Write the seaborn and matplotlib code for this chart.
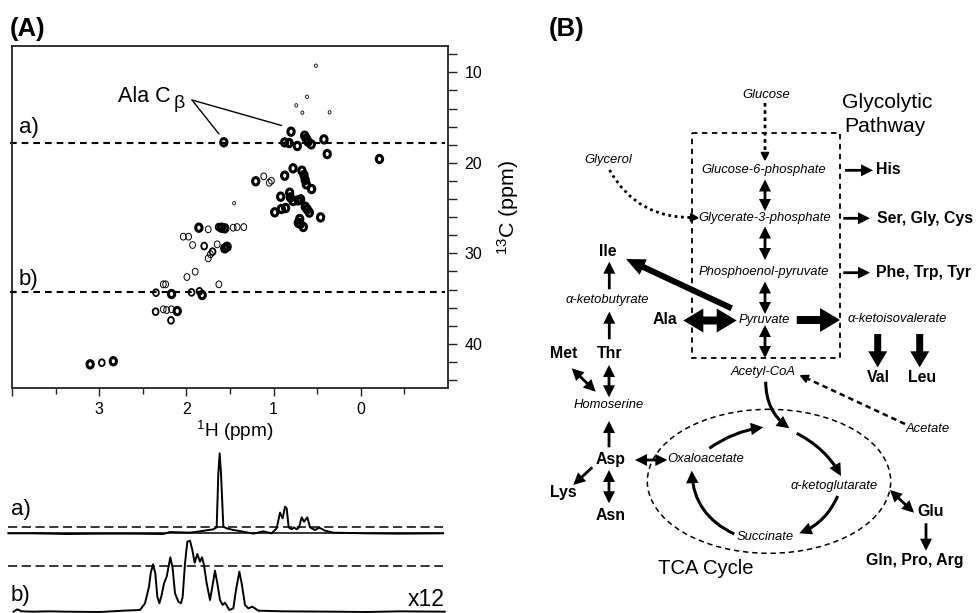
# =========================
# 1. Import Libraries
# =========================
import numpy as np
import pandas as pd
import seaborn as sns
import matplotlib
matplotlib.use("Agg")
import matplotlib.pyplot as plt
from matplotlib.patches import Ellipse, FancyArrowPatch, Rectangle
from matplotlib.path import Path
from matplotlib.transforms import Affine2D

# =========================
# 2. Data
# =========================
# 1H / 13C shifts (ppm) of the HSQC peaks, by contour weight
strong_h = [1.571, 0.80, 0.873, 0.823, 0.728, 0.644, 0.625, 0.606, 0.568, 0.423, 0.385, -0.214,
            0.777, 0.873, 0.675, 0.652, 0.637, 0.625, 0.564, 0.919, 0.816, 0.808, 0.777, 0.72, 0.69,
            0.637, 0.614, 0.59, 0.862, 0.911, 0.987, 0.461, 0.701, 0.717, 0.694, 0.659,
            1.857, 1.598, 1.56, 1.533, 1.56, 2.17, 1.819, 2.105, 3.104, 2.838, 1.205]
strong_c = [17.73, 16.56, 17.74, 17.81, 18.14, 17.0, 17.33, 17.66, 17.96, 17.41, 19.03, 19.58,
            20.61, 21.42, 20.87, 21.35, 21.9, 22.38, 22.9, 23.74, 23.3, 23.82, 24.22, 24.15, 24.04,
            24.85, 25.14, 25.5, 25.0, 25.1, 25.47, 26.03, 26.21, 26.62, 26.76, 27.09,
            27.17, 27.17, 27.24, 29.27, 29.45, 34.5, 34.61, 36.38, 42.27, 41.93, 22.04]
medium_h = [1.796, 1.70, 2.349, 1.941, 2.353, 2.177, 2.97, 1.85, 1.63]
medium_c = [29.2, 29.82, 34.35, 34.32, 36.45, 37.41, 42.09, 34.2, 27.1]
weak_h = [1.113, 1.025, 1.05, 1.464, 1.418, 1.342, 2.036, 1.975, 1.929, 1.647, 1.75, 1.724,
          1.899, 1.994, 1.628, 2.265, 2.238, 2.265, 2.227, 2.17, 1.75]
weak_c = [21.5, 21.98, 22.2, 27.17, 27.1, 27.1, 28.16, 28.16, 29.08, 29.01, 30.56, 30.1,
          32.03, 32.62, 33.43, 33.43, 33.43, 36.19, 36.27, 36.19, 27.35]
tiny_h = [0.515, 0.617, 0.74, 0.67, 0.358, 1.453]
tiny_c = [9.27, 12.7, 13.65, 14.46, 14.42, 24.47]

h_ticks = [4, 3, 2, 1, 0]
h_labels = ["", "3", "2", "1", "0"]
h_minor = [3.5, 2.5, 1.5, 0.5, -0.5]
c_ticks = [8, 10, 12, 14, 16, 18, 20, 22, 24, 26, 28, 30, 32, 34, 36, 38, 40, 42, 44]
c_labels = ["", "10", "", "", "", "", "20", "", "", "", "", "30", "", "", "", "", "40", "", ""]
cut_a = 17.76
cut_b = 34.24

# 1D slices: spectrum channel and intensity
trace_a_x = [25, 100, 200, 300, 400, 490, 510, 570, 600, 640, 650, 655, 659, 663, 670, 680, 700, 730, 760,
             790, 815, 830, 840, 848, 855, 860, 866, 875, 882, 890, 897, 905, 912, 922, 930, 945, 958,
             975, 1000, 1100, 1200, 1330]
trace_a_y = [-2, -2, -4, -3, -3, -4, 2, 0, 4, 10, 16, 178, 238, 178, 18, 13, 8, 3, -3,
             4, -2, 13, 60, 43, 78, 73, 16, 10, 16, 10, 16, 46, 33, 46, 16, 8, 15,
             6, 0, -2, -3, -2]
trace_b_x = [40, 52, 65, 100, 150, 200, 300, 370, 420, 435, 447, 452, 459, 466, 472, 478, 485, 492, 500,
             511, 518, 525, 535, 543, 548, 555, 562, 570, 577, 584, 592, 600, 606, 612, 620, 630, 637,
             645, 652, 660, 668, 675, 688, 700, 708, 718, 725, 735, 745, 757, 775, 850, 1000, 1100,
             1200, 1335]
trace_b_y = [0, 7, 1, 0, 1, 0, -1, 3, 5, 25, 75, 115, 142, 115, 45, 25, 50, 85, 105,
             163, 130, 55, 30, 25, 45, 145, 210, 213, 185, 147, 173, 150, 163, 140, 85, 35, 75,
             123, 85, 35, 20, 27, 5, 10, 65, 120, 85, 20, 10, 15, 3, 1, 0, -1,
             1, 0]
offset_a = 237
dash_a = 253
dash_b = 136

# =========================
# 3. Theme and figure
# =========================
sns.set_theme(style="white")
plt.rcParams["font.family"] = ["Liberation Sans", "DejaVu Sans"]
plt.rcParams["mathtext.default"] = "regular"
plt.rcParams["text.color"] = "black"

W, H = 978, 613
fig = plt.figure(figsize=(W / 100, H / 100), dpi=100)


def px_axes(x0, y0, x1, y1):
    return fig.add_axes([x0 / W, 1 - y1 / H, (x1 - x0) / W, (y1 - y0) / H])


# =========================
# 4. 2D spectrum
# =========================
ax = px_axes(12, 46, 448, 387.5)
peak_marker = Path.unit_circle().transformed(Affine2D().scale(0.85, 1.0))
for hs, cs, size, lw in [(weak_h, weak_c, 24, 0.7), (tiny_h, tiny_c, 6, 0.6),
                         (medium_h, medium_c, 24, 1.3), (strong_h, strong_c, 28, 2.2)]:
    peaks = pd.DataFrame({"h": hs, "c": cs})
    sns.scatterplot(data=peaks, x="h", y="c", s=size, marker=peak_marker, fc="none", ec="black",
                    linewidth=lw, legend=False, ax=ax, zorder=3)

ax.set_xlim(4.0, -1.0)
ax.set_ylim(44.83, 7.09)
ax.plot([4.02, -0.97], [cut_a, cut_a], color="black", lw=1.5, ls=(0, (3.2, 2.4)), clip_on=False)
ax.plot([4.02, -0.97], [cut_b, cut_b], color="black", lw=1.5, ls=(0, (3.2, 2.4)), clip_on=False)

ax.set_xticks(h_ticks, labels=h_labels)
ax.set_xticks(h_minor, minor=True)
ax.set_yticks(c_ticks, labels=c_labels)
ax.yaxis.tick_right()
ax.tick_params(axis="x", which="major", length=5.8, width=1, color="#222222", labelsize=11.5,
               labelcolor="black", pad=4.3, bottom=True)
ax.tick_params(axis="x", which="minor", length=4, width=1, color="#222222", bottom=True)
ax.tick_params(axis="y", which="major", length=6.5, width=1, color="#222222", labelsize=11.5,
               labelcolor="black", pad=5.5, right=True, left=False)
ax.set_xlabel("")
ax.set_ylabel("")
for s in ax.spines.values():
    s.set_color("#222222")
    s.set_linewidth(1.3)

# =========================
# 5. 1D slices
# =========================
ax1 = px_axes(0, 440, 460, 613)
slice_a = pd.DataFrame({"x": trace_a_x, "y": np.array(trace_a_y) + offset_a})
slice_b = pd.DataFrame({"x": trace_b_x, "y": trace_b_y})
sns.lineplot(data=slice_a, x="x", y="y", color="black", lw=1.4, estimator=None, sort=False, ax=ax1)
sns.lineplot(data=slice_b, x="x", y="y", color="black", lw=1.4, estimator=None, sort=False, ax=ax1)
ax1.plot([25, 1330], [dash_a, dash_a], color="black", lw=1.1, ls=(0, (6, 3)))
ax1.plot([25, 1330], [dash_b, dash_b], color="black", lw=1.1, ls=(0, (6, 3)))
ax1.plot([25, 1330], [offset_a, offset_a], color="black", lw=1.1)
ax1.set_xlim(0, 1380)
ax1.set_ylim(-4, 515)
ax1.axis("off")

# =========================
# 6. Overlay (text, pathway)
# =========================
ov = px_axes(0, 0, W, H)
ov.set_xlim(0, W)
ov.set_ylim(H, 0)
ov.axis("off")
ov.patch.set_alpha(0)


def label(x, y, s, size=9.6, ha="center", **kw):
    ov.text(x, y, s, fontsize=size, ha=ha, va="center", color="black", **kw)


def it(x, y, s):
    label(x, y, s, size=9.4, style="italic")


def bold(x, y, s, ha="center"):
    label(x, y, s, size=11.4, ha=ha, weight="bold")


def arrow(p0, p1, style="-|>", lw=2.0, head=9, rad=0, ls="-"):
    st = style if style == "-" else style + ",head_length=0.6,head_width=0.3"
    ov.add_patch(FancyArrowPatch(p0, p1, arrowstyle=st,
                                 mutation_scale=head, lw=lw, color="black", shrinkA=0, shrinkB=0,
                                 connectionstyle=f"arc3,rad={rad}", linestyle=ls, capstyle="butt",
                                 joinstyle="miter"))


def fat(p0, p1, tail, hw, hl):
    st = f"simple,head_length={hl * 0.72},head_width={hw * 0.72},tail_width={tail * 0.72}"
    ov.add_patch(FancyArrowPatch(p0, p1, arrowstyle=st, mutation_scale=1, lw=0, color="black",
                                 shrinkA=0, shrinkB=0))


# panel letters and labels of A
label(10, 29, "(A)", size=18.5, ha="left", weight="bold")
label(549, 29, "(B)", size=18.5, ha="left", weight="bold")
label(19, 127, "a)", size=16, ha="left")
label(19, 280, "b)", size=16, ha="left")
label(118, 96, "Ala C", size=15.5, ha="left")
label(174, 104, "β", size=14, ha="left")
ov.plot([192, 219], [100, 134], color="black", lw=1)
ov.plot([192, 281.5], [100, 125.5], color="black", lw=1)
label(235, 431, "$^{1}$H (ppm)", size=13.7)
label(508, 207, "$^{13}$C (ppm)", size=15.4, rotation=90)
label(11, 509, "a)", size=16, ha="left")
label(11, 595, "b)", size=16, ha="left")
label(408, 599, "x12", size=16.5, ha="left")

# metabolites
it(766, 95.5, "Glucose")
it(608, 160.5, "Glycerol")
it(763.5, 170, "Glucose-6-phosphate")
it(765, 218.5, "Glycerate-3-phosphate")
it(764, 272.5, "Phosphoenol-pyruvate")
it(607.5, 299.5, "α-ketobutyrate")
it(764, 319.5, "Pyruvate")
it(897.5, 319.5, "α-ketoisovalerate")
it(763, 371.5, "Acetyl-CoA")
it(608.5, 404.5, "Homoserine")
it(928, 429, "Acetate")
it(705.5, 459.5, "Oxaloacetate")
it(834.5, 486, "α-ketoglutarate")
it(765, 537, "Succinate")

# amino acids
bold(876, 170, "His", ha="left")
bold(877, 218, "Ser, Gly, Cys", ha="left")
bold(876, 272, "Phe, Trp, Tyr", ha="left")
bold(608, 251.5, "Ile")
bold(664.5, 319, "Ala")
bold(564, 354, "Met")
bold(610, 354, "Thr")
bold(878.5, 377.5, "Val")
bold(922, 378, "Leu")
bold(611, 459.5, "Asp")
bold(563.5, 493, "Lys")
bold(611, 516, "Asn")
bold(930.5, 512, "Glu")
bold(915, 560, "Gln, Pro, Arg")

label(842, 103, "Glycolytic", size=15.2, ha="left")
label(844, 127, "Pathway", size=15.2, ha="left")
label(658, 568.5, "TCA Cycle", size=14.6, ha="left")

# boxes
ov.add_patch(Rectangle((691.7, 133.3), 148.3, 225, fill=False, ec="black", lw=1.3, ls=(0, (3, 2.5))))
ov.add_patch(Ellipse((769, 481.3), 243.4, 144, fill=False, ec="black", lw=1.1, ls=(0, (3.5, 2.5))))

# glycolysis arrows
arrow((765, 103), (765, 155), style="-", lw=2, ls=(0, (1.3, 1.3)))
arrow((765, 154), (765, 161.5), lw=1, head=9)
arrow((765, 179.5), (765, 211), style="<|-|>", lw=2)
arrow((765, 226.5), (765, 260), style="<|-|>", lw=2)
arrow((765, 281.5), (765, 314), style="<|-|>", lw=2)
arrow((765, 325), (765, 358), style="<|-|>", lw=2)
arrow((609.5, 170), (693, 217.5), style="-", lw=2, rad=0.3, ls=(0, (1, 1.3)))
arrow((692, 217.5), (699.5, 218), lw=1, head=9)
arrow((845, 170.3), (873, 170.3))
arrow((843.3, 218.3), (870, 218.3))
arrow((843.3, 272.7), (870, 272.7))

# thick arrows
fat((731.7, 308.3), (626, 259), 6, 17, 19)
fat((710, 320.5), (683.3, 320.5), 8, 24, 20)
fat((710, 320.5), (736.7, 320.5), 8, 24, 20)
fat((796.7, 320), (840, 320), 8, 24, 20)
fat((877.7, 334), (877.7, 367.3), 7, 19, 16)
fat((919.7, 334), (919.7, 367.3), 7, 19, 16)

# amino acid branches
arrow((609.3, 289.3), (609.3, 261.7))
arrow((609.3, 339.3), (609.3, 311.7))
arrow((609, 365), (609, 397.3), style="<|-|>")
arrow((571.7, 368.3), (595.7, 391.7), style="<|-|>")
arrow((609, 447.3), (609, 421))
arrow((592.3, 467.3), (573.3, 485))
arrow((609, 470), (609, 503.3), style="<|-|>")
arrow((635, 460), (667.3, 460), style="<|-|>")

# TCA cycle arrows
arrow((765.7, 381.7), (789.3, 428.3), lw=2.2, rad=0.25)
arrow((709.3, 448.3), (763.3, 427.3), lw=2.2, rad=-0.12)
arrow((796.7, 433.3), (841, 476), lw=2.2, rad=-0.15)
arrow((837.7, 496), (799.3, 533.3), lw=2.2, rad=-0.2)
arrow((734.3, 534), (691.7, 470.7), lw=2.2, rad=-0.3)

# acetate and glutamate
arrow((905, 424), (806, 378), style="-", lw=1.8, ls=(0, (2.2, 1.6)))
arrow((808, 379), (799.3, 375), lw=1, head=9)
arrow((890, 490), (914, 512.7), style="<|-|>")
arrow((926, 523.3), (926, 550.7))

fig.savefig("out.png", dpi=100)
